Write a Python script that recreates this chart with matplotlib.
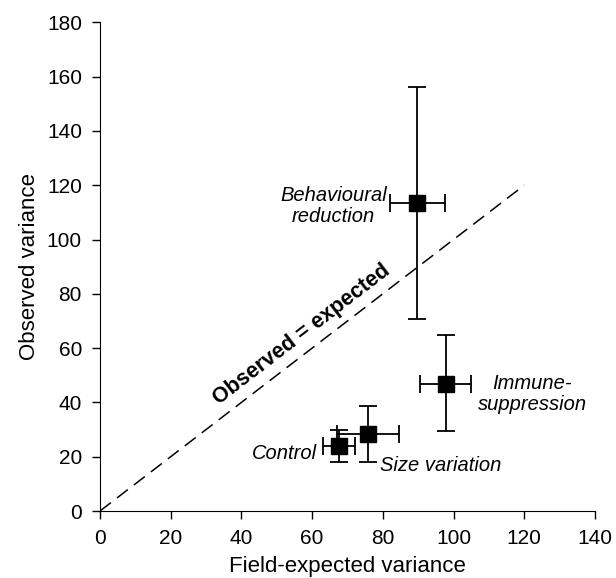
import matplotlib
matplotlib.use("Agg")
import matplotlib.pyplot as plt

plt.rcParams['font.family'] = ['Liberation Sans', 'DejaVu Sans']

# treatments: field-expected variance (x) vs observed variance (y)
groups = ['Control', 'Size variation', 'Immune-\nsuppression', 'Behavioural\nreduction']
x_mean = [67.6, 75.7, 97.8, 89.8]
x_lo = [63.2, 66.9, 90.6, 82.0]
x_hi = [72.1, 84.6, 104.9, 97.7]
y_mean = [23.9, 28.4, 46.8, 113.3]
y_lo = [18.2, 17.9, 29.6, 70.6]
y_hi = [29.8, 38.7, 64.7, 156.3]

# label anchors (data coords)
label_xy = [(61.3, 21.0), (79.2, 16.6), (122.3, 43.1), (66.0, 112.3)]
label_ha = ['right', 'left', 'center', 'center']

line_end = 120

fig = plt.figure(figsize=(6.16, 5.78), dpi=100)
ax = fig.add_axes([0.1623, 0.1159, 0.8036, 0.8455])

ax.plot([0, line_end], [0, line_end], color='black', lw=1.1, dashes=(9, 5))

xerr = [[m - lo for m, lo in zip(x_mean, x_lo)], [hi - m for m, hi in zip(x_mean, x_hi)]]
yerr = [[m - lo for m, lo in zip(y_mean, y_lo)], [hi - m for m, hi in zip(y_mean, y_hi)]]
ax.errorbar(x_mean, y_mean, xerr=xerr, yerr=yerr, fmt='s', color='black',
            ms=11, elinewidth=1.3, capsize=6.5, capthick=1.3, zorder=3)

for name, (lx, ly), ha in zip(groups, label_xy, label_ha):
    ax.text(lx, ly, name, ha=ha, va='center', multialignment='center',
            fontsize=14.5, style='italic', linespacing=1.15)

ax.text(57.1, 64.8, 'Observed = expected', rotation=37.5, rotation_mode='anchor',
        ha='center', va='center', fontsize=15.5, fontweight='bold')

ax.set_xlim(0, 140)
ax.set_ylim(0, 180)
ax.set_xticks(range(0, 141, 20))
ax.set_yticks(range(0, 181, 20))
ax.spines['top'].set_visible(False)
ax.spines['right'].set_visible(False)
ax.tick_params(direction='out', length=6, width=1, labelsize=15, pad=7)
ax.set_xlabel('Field-expected variance', fontsize=16, labelpad=6)
ax.set_ylabel('Observed variance', fontsize=16, labelpad=5)

fig.savefig('out.png', dpi=100)
